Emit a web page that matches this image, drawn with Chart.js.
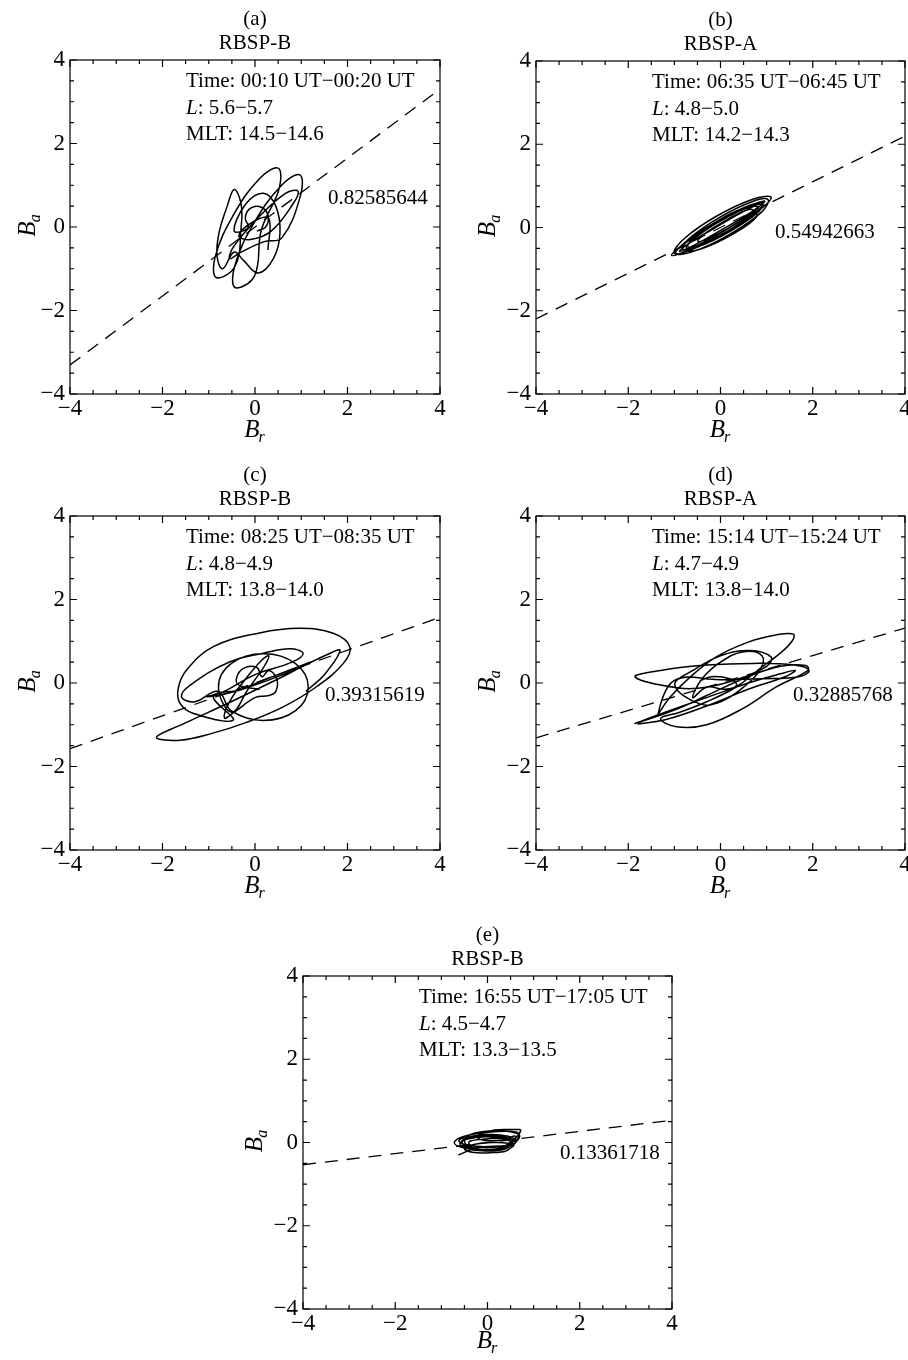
<!DOCTYPE html>
<html>
<head>
<meta charset="utf-8">
<title>Hodograms B_r – B_a</title>
<script src="https://cdn.jsdelivr.net/npm/chart.js@4.4.1/dist/chart.umd.min.js"></script>
<style>
  html, body { margin: 0; padding: 0; background: #fff; width: 908px; height: 1360px; overflow: hidden; }
  canvas { position: absolute; }
</style>
</head>
<body>
<canvas id="pa"></canvas>
<canvas id="pb"></canvas>
<canvas id="pc"></canvas>
<canvas id="pd"></canvas>
<canvas id="pe"></canvas>
<script>
// ---- axis ticks ----
const tickValues = [-4, -2, 0, 2, 4];
const tickLabels = ['\u22124', '\u22122', '0', '2', '4'];
const minorTicks = [-3.5, -3, -2.5, -1.5, -1, -0.5, 0.5, 1, 1.5, 2.5, 3, 3.5];

// ---- panel texts ----
const panelLetters = ['(a)', '(b)', '(c)', '(d)', '(e)'];
const probes = ['RBSP-B', 'RBSP-A', 'RBSP-B', 'RBSP-A', 'RBSP-B'];
const timeRanges = [
  'Time: 00:10 UT\u221200:20 UT',
  'Time: 06:35 UT\u221206:45 UT',
  'Time: 08:25 UT\u221208:35 UT',
  'Time: 15:14 UT\u221215:24 UT',
  'Time: 16:55 UT\u221217:05 UT'
];
const lRanges = ['5.6\u22125.7', '4.8\u22125.0', '4.8\u22124.9', '4.7\u22124.9', '4.5\u22124.7'];
const mltRanges = ['14.5\u221214.6', '14.2\u221214.3', '13.8\u221214.0', '13.8\u221214.0', '13.3\u221213.5'];

// ---- slope of the fitted line through the origin ----
const fitSlopes = [0.82585644, 0.54942663, 0.39315619, 0.32885768, 0.13361718];

// ---- hodograms: [B_r, B_a] samples ----
const hodoA = [
  [0.04,-0.1],[0.22,-0.01],[0.29,0.2],[0.22,0.41],[0.04,0.5],[-0.14,0.41],[-0.21,0.2],[-0.14,-0.01],
  [-0.45,-0.1],[-0.2,0.55],[0.18,0.81],[0.45,0.5],[0.54,-0.15],[0.4,-0.75],[0.07,-1.1],[-0.25,-0.8],
  [-0.45,-0.6],[-0.7,-1.0],[-0.82,-0.7],[-0.78,-0.15],[-0.6,0.5],[-0.45,0.9],[-0.3,0.55],[-0.3,0.0],
  [-0.43,-0.94],[-0.84,-1.21],[-0.86,-0.71],[-0.48,0.26],[0.08,1.14],[0.5,1.41],[0.52,0.91],[0.14,-0.06],
  [-0.01,-1.17],[-0.43,-1.45],[-0.44,-0.94],[-0.04,0.06],[0.55,0.97],[0.97,1.25],[0.98,0.74],[0.58,-0.26],
  [0.2,-0.35],[-0.3,-0.6],[-0.55,-0.76],[-0.45,-0.45],[0.05,0.2],[0.65,0.8],[0.93,0.86],[0.82,0.55],[0.35,-0.1],
  [-0.1,-0.3],[-0.35,-0.2],[0.0,0.15],[0.3,0.2],[0.28,-0.55]
];
const hodoB = [
  [0.97,0.62],[0.62,0.53],[-0.09,0.14],[-0.75,-0.34],[-0.97,-0.62],[-0.62,-0.53],[0.09,-0.14],[0.75,0.34],
  [1.10,0.72],[0.70,0.68],[-0.09,0.27],[-0.79,-0.27],[-1.0,-0.62],[-0.60,-0.58],[0.19,-0.17],[0.89,0.37],
  [1.03,0.67],[0.68,0.62],[-0.01,0.25],[-0.63,-0.22],[-0.83,-0.51],[-0.48,-0.46],[0.21,-0.09],[0.83,0.38],
  [0.89,0.57],[0.60,0.44],[-0.03,0.05],[-0.65,-0.36],[-0.89,-0.57],[-0.60,-0.44],[0.03,-0.05],[0.65,0.36],
  [0.96,0.63],[0.62,0.51],[-0.12,0.08],[-0.81,-0.41],[-1.06,-0.67],[-0.72,-0.55],[0.02,-0.12],[0.71,0.37],
  [0.81,0.50],[0.53,0.45],[-0.03,0.14],[-0.54,-0.24],[-0.71,-0.46],[-0.43,-0.41],[0.13,-0.10],[0.64,0.28],
  [0.94,0.54],[0.61,0.51],[-0.02,0.19],[-0.58,-0.25],[-0.74,-0.54],[-0.41,-0.51],[0.22,-0.19],[0.78,0.25],
  [0.69,0.43],[0.48,0.38],[0.05,0.13],[-0.36,-0.16],[-0.49,-0.33],[-0.28,-0.27],[0.15,-0.03],[0.56,0.26],[0.6,0.33]
];
const hodoC = [
  [0.1,-0.15],[-0.35,-0.05],[-0.4,0.12],[-0.25,0.35],[0.04,0.37],[0.15,0.15],[0.3,0.3],[0.47,0.1],[0.45,-0.2],[0.3,-0.3],[0.0,-0.35],
  [-0.45,-0.7],[-0.66,-0.84],[-0.55,-0.45],[-0.2,0.1],[0.15,0.55],[0.3,0.65],[0.2,0.4],[-0.15,-0.15],[-0.5,-0.7],
  [-0.79,-0.1],[-0.51,0.47],[0.18,0.7],[0.87,0.47],[1.15,-0.1],[0.87,-0.67],[0.18,-0.9],[-0.51,-0.67],[-0.8,-0.2],
  [-1.3,-0.45],[-1.59,-0.33],[-1.4,-0.05],[-0.54,0.51],[0.2,0.72],[0.76,0.82],[1.04,0.71],[0.8,0.5],[0.0,0.2],[-0.68,-0.21],
  [-1.04,-0.33],[-0.5,-0.22],[0.3,0.12],[1.23,0.51],[0.6,0.2],[-0.3,-0.16],[-0.9,-0.32],
  [-0.47,-0.89],[-1.33,-0.73],[-1.62,-0.49],[-1.66,-0.13],[-1.48,0.31],[-0.9,0.87],[0.1,1.2],[0.97,1.31],[1.69,1.19],[2.05,0.87],[1.91,0.47],[1.33,-0.09],[0.61,-0.57],
  [-0.2,-0.95],[-0.91,-1.2],[-1.62,-1.37],[-2.13,-1.3],[-1.55,-0.98],[-0.54,-0.46],[0.54,0.12],[1.0,0.38],[1.6,0.7],[1.84,0.78],[1.5,0.2],[1.1,-0.2]
];
const hodoD = [
  [-0.45,0.05],[-0.2,0.15],[0.2,0.1],[0.35,-0.05],[0.1,-0.15],[-0.3,-0.1],
  [-0.6,-0.35],[-0.4,0.1],[0.0,0.5],[0.5,0.75],[0.9,0.65],[0.85,0.3],[0.5,-0.1],[0.0,-0.45],[-0.45,-0.5],
  [-0.99,-0.05],[-0.6,0.3],[0.0,0.65],[0.64,0.78],[1.1,0.62],[1.0,0.4],[0.4,0.1],[-0.3,-0.1],[-0.9,-0.12],
  [-1.85,0.14],[-1.3,0.3],[-0.3,0.43],[0.7,0.47],[1.6,0.43],[1.92,0.3],[1.7,0.15],[0.9,0.1],[0.0,0.08],[-1.0,0.06],
  [-1.35,-0.73],[-1.1,-0.35],[-0.7,0.1],[-0.1,0.62],[0.6,0.98],[1.2,1.15],[1.58,1.17],[1.55,1.0],[1.29,0.71],[0.8,0.3],[0.35,-0.09],[-0.3,-0.45],[-0.88,-0.7],
  [-1.3,-0.85],[-0.95,-1.05],[-0.3,-1.0],[0.5,-0.6],[1.2,-0.1],[1.9,0.3],[1.85,0.42],[1.3,0.4],[0.6,0.15],[-0.3,-0.3],[-1.0,-0.65],
  [-1.85,-0.97],[-1.2,-0.7],[-0.3,-0.35],[0.6,0.0],[1.3,0.22],[1.62,0.3],[1.4,0.15],[0.6,-0.15],[-0.3,-0.55],[-1.2,-0.88],[-1.8,-0.98]
];
const hodoE = [
  [0.65,0.05],[0.45,0.15],[0.05,0.19],[-0.4,0.13],[-0.55,0.0],[-0.4,-0.13],[0.05,-0.18],[0.45,-0.1],
  [0.7,0.15],[0.5,0.26],[0.1,0.28],[-0.35,0.2],[-0.5,0.03],[-0.35,-0.12],[0.1,-0.17],[0.5,-0.05],
  [0.5,0.02],[0.35,0.1],[-0.05,0.14],[-0.45,0.08],[-0.6,-0.03],[-0.45,-0.12],[-0.05,-0.17],[0.35,-0.1],
  [0.72,0.28],[0.5,0.31],[0.15,0.3],[-0.15,0.2],[-0.2,0.1],[0.05,0.04],[0.4,0.08],[0.6,0.15],
  [0.55,-0.1],[0.45,-0.02],[0.1,0.0],[-0.3,-0.05],[-0.5,-0.15],[-0.3,-0.24],[0.1,-0.24],[0.45,-0.18],
  [0.68,0.2],[0.45,0.27],[0.0,0.24],[-0.5,0.15],[-0.72,0.0],[-0.55,-0.12],[-0.1,-0.2],[0.4,-0.15],
  [0.55,0.05],[0.3,0.1],[-0.1,0.08],[-0.4,0.02],[-0.35,-0.08],[0.0,-0.12],[0.4,-0.08],
  [0.6,0.0],[0.4,0.12],[0.0,0.16],[-0.45,0.12],[-0.62,0.05],[-0.5,-0.05],[-0.1,-0.1],[0.35,-0.08],
  [-0.2,-0.12],[-0.63,-0.3]
];
const hodograms = [hodoA, hodoB, hodoC, hodoD, hodoE];

// ---- page layout of the five panels (pixels) ----
const frames = [
  { id: 'pa', left: 0,   top: 0,   w: 460, h: 449, plotW: 370, plotH: 334, slopeAt: [258, 138], brDrop: 43, baGap: 35 },
  { id: 'pb', left: 466, top: 1,   w: 442, h: 448, plotW: 369, plotH: 333, slopeAt: [239, 171], brDrop: 43, baGap: 41 },
  { id: 'pc', left: 0,   top: 456, w: 460, h: 449, plotW: 370, plotH: 334, slopeAt: [255, 179], brDrop: 43, baGap: 35 },
  { id: 'pd', left: 466, top: 456, w: 442, h: 449, plotW: 369, plotH: 334, slopeAt: [257, 179], brDrop: 43, baGap: 41 },
  { id: 'pe', left: 233, top: 916, w: 459, h: 448, plotW: 369, plotH: 333, slopeAt: [257, 177], brDrop: 39, baGap: 41 }
];

const SERIF = '"Liberation Serif", "Times New Roman", serif';
const AXIS_LEFT = 70, PLOT_TOP = 60;

Chart.defaults.font.family = SERIF;
Chart.defaults.color = '#000';

// Frame, inward ticks, titles and annotations for one panel
function decorations(i, fr) {
  return {
    id: 'decor' + i,
    afterDraw(chart) {
      const { ctx, chartArea: ca, scales: { x, y } } = chart;
      ctx.save();
      ctx.strokeStyle = '#000';
      ctx.lineWidth = 1.2;
      ctx.strokeRect(ca.left, ca.top, ca.right - ca.left, ca.bottom - ca.top);

      const tick = (v, len) => {
        const px = x.getPixelForValue(v), py = y.getPixelForValue(v);
        ctx.beginPath();
        ctx.moveTo(px, ca.bottom); ctx.lineTo(px, ca.bottom - len);
        ctx.moveTo(px, ca.top); ctx.lineTo(px, ca.top + len);
        ctx.moveTo(ca.left, py); ctx.lineTo(ca.left + len, py);
        ctx.moveTo(ca.right, py); ctx.lineTo(ca.right - len, py);
        ctx.stroke();
      };
      tickValues.forEach(v => tick(v, 7));
      minorTicks.forEach(v => tick(v, 4));

      ctx.fillStyle = '#000';
      const cx = (ca.left + ca.right) / 2;
      const cy = (ca.top + ca.bottom) / 2;

      // titles
      ctx.font = '21px ' + SERIF;
      ctx.textAlign = 'center';
      ctx.textBaseline = 'alphabetic';
      ctx.fillText(panelLetters[i], cx, ca.top - 35);
      ctx.fillText(probes[i], cx, ca.top - 11);

      // interval annotation
      ctx.textAlign = 'left';
      const x0 = ca.left + 116;
      ctx.fillText(timeRanges[i], x0, ca.top + 27);
      ctx.font = 'italic 21px ' + SERIF;
      ctx.fillText('L', x0, ca.top + 54);
      const wl = ctx.measureText('L').width;
      ctx.font = '21px ' + SERIF;
      ctx.fillText(': ' + lRanges[i], x0 + wl, ca.top + 54);
      ctx.fillText('MLT: ' + mltRanges[i], x0, ca.top + 80);

      // slope value
      ctx.textBaseline = 'middle';
      ctx.fillText(String(fitSlopes[i]), ca.left + fr.slopeAt[0], ca.top + fr.slopeAt[1]);

      // x-axis title B_r
      ctx.textBaseline = 'alphabetic';
      ctx.font = 'italic 25px ' + SERIF;
      const wB = ctx.measureText('B').width;
      ctx.font = 'italic 16px ' + SERIF;
      const wr = ctx.measureText('r').width;
      const bx = cx - (wB + wr) / 2;
      const by = ca.bottom + fr.brDrop;
      ctx.font = 'italic 25px ' + SERIF;
      ctx.fillText('B', bx, by);
      ctx.font = 'italic 16px ' + SERIF;
      ctx.fillText('r', bx + wB - 1, by + 5);

      // y-axis title B_a
      ctx.font = 'italic 16px ' + SERIF;
      const wa = ctx.measureText('a').width;
      ctx.translate(ca.left - fr.baGap, cy - 2);
      ctx.rotate(-Math.PI / 2);
      const sx = -(wB + wa) / 2;
      ctx.font = 'italic 25px ' + SERIF;
      ctx.fillText('B', sx, 0);
      ctx.font = 'italic 16px ' + SERIF;
      ctx.fillText('a', sx + wB - 1, 5);
      ctx.restore();
    }
  };
}

frames.forEach((fr, i) => {
  const canvas = document.getElementById(fr.id);
  canvas.width = fr.w;
  canvas.height = fr.h;
  canvas.style.left = fr.left + 'px';
  canvas.style.top = fr.top + 'px';

  const padRight = fr.w - AXIS_LEFT - fr.plotW;
  const xAxisH = fr.h - PLOT_TOP - fr.plotH;
  const s = fitSlopes[i];
  const tickFont = { family: SERIF, size: 23 };
  const setTicks = scale => { scale.ticks = tickValues.map(v => ({ value: v })); };
  const labelFor = v => tickLabels[tickValues.indexOf(v)];

  new Chart(canvas, {
    type: 'scatter',
    data: {
      datasets: [
        {
          data: hodograms[i].map(([bx, by]) => ({ x: bx, y: by })),
          showLine: true,
          borderColor: '#000',
          borderWidth: 1.5,
          pointRadius: 0,
          tension: 0.4,
          fill: false
        },
        {
          data: [{ x: -4, y: -4 * s }, { x: 4, y: 4 * s }],
          showLine: true,
          borderColor: '#000',
          borderWidth: 1.3,
          borderDash: [13, 9],
          pointRadius: 0,
          fill: false
        }
      ]
    },
    options: {
      responsive: false,
      animation: false,
      events: [],
      layout: { padding: { top: PLOT_TOP, left: 0, right: padRight, bottom: 0 } },
      plugins: { legend: { display: false }, tooltip: { enabled: false }, title: { display: false } },
      scales: {
        x: {
          type: 'linear', min: -4, max: 4,
          afterBuildTicks: setTicks,
          ticks: { callback: labelFor, font: tickFont, color: '#000', padding: 1, maxRotation: 0, autoSkip: false },
          grid: { display: false, drawTicks: false },
          border: { display: false },
          afterFit(scale) { scale.height = xAxisH; scale.paddingLeft = 0; scale.paddingRight = 0; }
        },
        y: {
          type: 'linear', min: -4, max: 4,
          afterBuildTicks: setTicks,
          ticks: { callback: labelFor, font: tickFont, color: '#000', padding: 5, autoSkip: false },
          grid: { display: false, drawTicks: false },
          border: { display: false },
          afterFit(scale) { scale.width = AXIS_LEFT; }
        }
      }
    },
    plugins: [decorations(i, fr)]
  });
});
</script>
</body>
</html>
